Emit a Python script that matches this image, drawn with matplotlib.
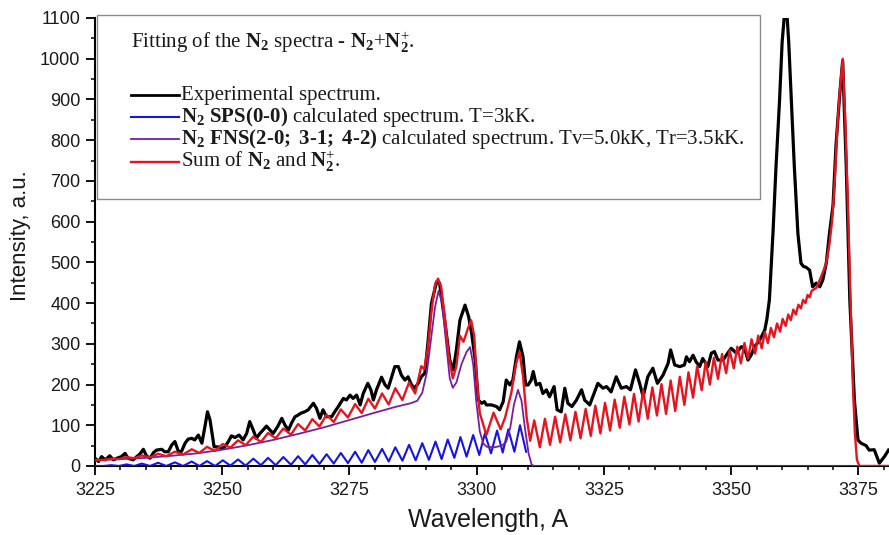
import matplotlib
matplotlib.use("Agg")
import matplotlib.pyplot as plt
from matplotlib.ticker import MultipleLocator
from matplotlib.patches import Rectangle
from matplotlib.lines import Line2D

# ---------------------------------------------------------------------------
# Spectra: (wavelength [A], intensity [a.u.]) pairs
# ---------------------------------------------------------------------------
experimental = [
    (3225.0, 19), (3225.7, 11), (3226.3, 23), (3227.0, 15), (3227.9, 25), (3228.6, 15),
    (3229.3, 19), (3230.2, 23), (3230.9, 31), (3231.5, 19), (3232.5, 15), (3233.2, 23),
    (3233.8, 29), (3234.5, 41), (3235.1, 25), (3235.8, 19), (3236.5, 33), (3237.1, 39),
    (3238.1, 41), (3238.7, 35), (3239.4, 35), (3240.1, 52), (3240.7, 60), (3241.4, 35),
    (3242.0, 36), (3242.7, 56), (3243.3, 66), (3244.0, 68), (3244.6, 64), (3245.3, 76),
    (3246.0, 56), (3246.6, 97), (3247.1, 133), (3247.6, 113), (3248.0, 80), (3248.4, 47),
    (3249.2, 47), (3249.9, 43), (3250.5, 47), (3251.2, 60), (3251.8, 74), (3252.5, 70),
    (3253.3, 76), (3254.1, 64), (3254.8, 80), (3255.4, 109), (3256.1, 88), (3256.7, 68),
    (3257.4, 80), (3258.0, 88), (3258.7, 98), (3259.4, 88), (3260.0, 80), (3260.9, 97),
    (3261.7, 117), (3262.3, 101), (3263.0, 88), (3263.6, 105), (3264.3, 121), (3264.9, 125),
    (3265.5, 130), (3266.2, 133), (3266.9, 138), (3267.9, 154), (3268.5, 142), (3269.2, 117),
    (3269.8, 138), (3270.5, 121), (3271.5, 121), (3272.1, 133), (3272.8, 146), (3273.8, 166),
    (3274.4, 162), (3275.1, 174), (3275.7, 166), (3276.4, 174), (3277.1, 150), (3277.7, 178),
    (3278.6, 203), (3279.2, 187), (3279.7, 162), (3280.3, 187), (3281.3, 218), (3282.0, 199),
    (3282.6, 191), (3283.3, 219), (3283.9, 244), (3284.6, 244), (3285.2, 223), (3285.9, 211),
    (3286.5, 219), (3287.2, 199), (3287.8, 191), (3288.5, 203), (3289.1, 219), (3289.8, 228),
    (3290.4, 301), (3291.1, 399), (3292.1, 452), (3292.7, 449), (3293.7, 358), (3294.7, 260),
    (3295.4, 236), (3296.0, 285), (3296.7, 358), (3297.7, 395), (3298.4, 367), (3299.0, 326),
    (3299.7, 260), (3300.3, 162), (3301.0, 154), (3301.5, 158), (3301.9, 150), (3302.9, 150),
    (3303.9, 146), (3304.5, 138), (3305.2, 158), (3305.8, 211), (3306.5, 199), (3307.1, 211),
    (3307.8, 268), (3308.4, 305), (3309.1, 268), (3309.6, 199), (3310.1, 199), (3310.7, 211),
    (3311.1, 232), (3311.7, 199), (3312.4, 203), (3313.0, 178), (3313.7, 187), (3314.3, 170),
    (3315.2, 195), (3315.8, 138), (3316.6, 133), (3317.3, 191), (3317.9, 154), (3318.7, 146),
    (3319.6, 162), (3320.6, 187), (3321.2, 162), (3322.2, 150), (3322.8, 170), (3323.8, 203),
    (3324.8, 191), (3325.5, 195), (3326.4, 182), (3327.4, 219), (3328.4, 191), (3329.4, 195),
    (3330.2, 187), (3331.2, 236), (3332.0, 203), (3332.7, 170), (3333.6, 219), (3334.6, 240),
    (3335.5, 203), (3336.6, 223), (3337.6, 252), (3338.1, 285), (3338.9, 248), (3339.9, 244),
    (3340.8, 248), (3341.2, 268), (3341.8, 256), (3342.5, 272), (3343.1, 256), (3343.8, 244),
    (3344.4, 264), (3345.4, 244), (3346.1, 277), (3346.7, 281), (3347.4, 260), (3348.4, 260),
    (3349.3, 277), (3350.0, 289), (3351.0, 277), (3352.0, 293), (3352.6, 289), (3353.3, 260),
    (3353.9, 272), (3354.6, 293), (3355.6, 309), (3356.6, 334), (3357.0, 360), (3357.5, 408),
    (3358.2, 571), (3358.8, 735), (3359.5, 899), (3360.0, 1040), (3360.4, 1100), (3361.0, 1100),
    (3361.3, 1040), (3361.8, 899), (3362.4, 735), (3363.1, 571), (3363.7, 498), (3364.2, 490),
    (3364.7, 488), (3365.4, 481), (3366.0, 440), (3366.7, 449), (3367.4, 440), (3368.0, 457),
    (3368.7, 500), (3369.3, 571), (3370.0, 640), (3370.6, 790), (3371.3, 910), (3371.9, 995),
    (3372.6, 735), (3373.3, 408), (3374.2, 162), (3374.9, 64), (3375.5, 56), (3376.5, 50),
    (3377.1, 39), (3378.1, 40), (3379.1, 7), (3380.1, 23), (3380.9, 39),
]

sps_n2 = [
    (3225.0, 0), (3226.7, 0), (3228.2, 2), (3229.7, 0), (3231.2, 4), (3232.7, 0),
    (3234.2, 6), (3235.8, 0), (3237.4, 8), (3239.0, 0), (3240.7, 9), (3242.3, 0),
    (3244.0, 11), (3245.5, 0), (3247.0, 12), (3248.6, 0), (3250.1, 14), (3251.6, 1),
    (3253.1, 16), (3254.6, 1), (3256.1, 18), (3257.6, 2), (3259.0, 20), (3260.5, 2),
    (3262.0, 22), (3263.5, 3), (3264.9, 24), (3266.3, 4), (3267.7, 27), (3269.1, 5),
    (3270.5, 29), (3271.9, 6), (3273.3, 32), (3274.7, 7), (3276.1, 35), (3277.4, 8),
    (3278.7, 39), (3280.0, 10), (3281.4, 42), (3282.7, 11), (3284.0, 46), (3285.4, 13),
    (3286.7, 52), (3288.0, 14), (3289.3, 56), (3290.6, 15), (3291.9, 60), (3293.1, 17),
    (3294.3, 65), (3295.6, 20), (3296.8, 71), (3298.0, 23), (3299.3, 76), (3300.5, 27),
    (3301.6, 80), (3302.8, 31), (3304.0, 87), (3305.1, 33), (3306.2, 90), (3307.4, 35),
    (3308.5, 100), (3309.7, 35),
]

fns_n2plus = [
    (3225.0, 14), (3230.0, 17), (3235.0, 20), (3240.0, 25), (3245.0, 31), (3250.0, 40),
    (3255.0, 51), (3260.0, 64), (3265.0, 79), (3270.0, 95), (3275.0, 113), (3280.0, 131),
    (3284.0, 145), (3287.0, 154), (3288.3, 160), (3289.3, 180), (3290.2, 230), (3291.0, 310),
    (3291.8, 390), (3292.5, 430), (3293.2, 400), (3294.0, 300), (3294.7, 215), (3295.3, 192),
    (3296.0, 205), (3297.0, 250), (3298.0, 280), (3298.7, 292), (3299.3, 250), (3299.9, 160),
    (3300.6, 85), (3301.3, 55), (3302.0, 47), (3303.5, 46), (3305.0, 50), (3305.8, 60),
    (3306.6, 95), (3307.3, 150), (3308.1, 187), (3308.8, 160), (3309.5, 90), (3310.2, 30),
    (3310.8, 3), (3311.3, 0), (3381.0, 0),
]

sum_spectrum = [
    (3225.0, 14), (3226.7, 15), (3228.2, 18), (3229.7, 17), (3231.2, 22), (3232.7, 19),
    (3234.2, 26), (3235.8, 21), (3237.4, 30), (3239.0, 24), (3240.7, 35), (3242.3, 28),
    (3244.0, 41), (3245.5, 32), (3247.0, 47), (3248.6, 37), (3250.1, 54), (3251.6, 45),
    (3253.1, 63), (3254.6, 51), (3256.1, 72), (3257.6, 59), (3259.0, 81), (3260.5, 68),
    (3262.0, 92), (3263.5, 77), (3264.9, 103), (3266.3, 87), (3267.7, 115), (3269.1, 97),
    (3270.5, 126), (3271.9, 108), (3273.3, 139), (3274.7, 119), (3276.1, 152), (3277.4, 130),
    (3278.7, 165), (3280.0, 141), (3281.4, 178), (3282.7, 151), (3284.0, 191), (3285.4, 162),
    (3286.7, 205), (3287.9, 178), (3289.1, 245), (3289.7, 238), (3290.4, 290), (3291.1, 380),
    (3291.8, 445), (3292.4, 460), (3293.0, 440), (3293.7, 370), (3294.5, 270), (3295.3, 215),
    (3296.0, 245), (3296.7, 320), (3297.4, 305), (3298.2, 335), (3298.9, 358), (3299.5, 320),
    (3300.1, 200), (3300.6, 130), (3301.9, 76), (3303.3, 131), (3304.7, 90), (3305.6, 120),
    (3306.8, 180), (3307.7, 250), (3308.4, 280), (3309.1, 220), (3309.8, 120), (3310.5, 62),
    (3311.3, 112), (3312.4, 46), (3313.4, 116), (3314.4, 52), (3315.4, 121), (3316.4, 58),
    (3317.4, 127), (3318.4, 63), (3319.4, 133), (3320.4, 68), (3321.4, 140), (3322.4, 74),
    (3323.3, 148), (3324.3, 80), (3325.2, 155), (3326.2, 87), (3327.1, 163), (3328.1, 94),
    (3329.0, 170), (3330.0, 102), (3330.9, 177), (3331.8, 109), (3332.7, 185), (3333.6, 116),
    (3334.5, 193), (3335.4, 124), (3336.3, 201), (3337.2, 128), (3338.1, 210), (3339.0, 135),
    (3339.9, 219), (3340.8, 150), (3341.6, 230), (3342.5, 168), (3343.3, 244), (3344.2, 186),
    (3345.0, 256), (3345.8, 200), (3346.6, 266), (3347.4, 214), (3348.2, 275), (3349.0, 228),
    (3349.7, 284), (3350.5, 240), (3351.2, 293), (3351.9, 252), (3352.6, 302), (3353.3, 264),
    (3354.0, 311), (3354.7, 276), (3355.3, 320), (3356.0, 289), (3356.6, 329), (3357.2, 302),
    (3357.8, 339), (3358.4, 316), (3359.0, 350), (3359.6, 330), (3360.1, 361), (3360.7, 344),
    (3361.2, 372), (3361.7, 358), (3362.2, 384), (3362.7, 372), (3363.2, 396), (3363.7, 387),
    (3364.1, 408), (3364.6, 400), (3365.0, 420), (3365.4, 414), (3365.8, 430), (3366.7, 437),
    (3367.5, 460), (3368.2, 482), (3368.7, 500), (3369.3, 545), (3369.8, 600), (3370.3, 690),
    (3370.8, 820), (3371.3, 915), (3371.9, 1000), (3372.4, 850), (3372.9, 650), (3373.4, 420),
    (3373.9, 200), (3374.3, 80), (3374.7, 15), (3375.2, 0), (3381.0, 0),
]

x_ticks = [3225, 3250, 3275, 3300, 3325, 3350, 3375]
y_ticks = list(range(0, 1101, 100))

legend_title = (r"Fitting of the $\mathbf{N}_{\mathbf{2}}$ spectra - "
                r"$\mathbf{N}_{\mathbf{2}}$+$\mathbf{N}_{\mathbf{2}}^{+}$.")
legend_labels = [
    "Experimental spectrum.",
    r"$\mathbf{N}_{\mathbf{2}}$ $\mathbf{SPS(0}$-$\mathbf{0)}$ calculated spectrum. T=3kK.",
    r"$\mathbf{N}_{\mathbf{2}}$ $\mathbf{FNS(2}$-$\mathbf{0;}$ $\mathbf{3}$-$\mathbf{1;}$ "
    r"$\mathbf{4}$-$\mathbf{2)}$ calculated spectrum. Tv=5.0kK, Tr=3.5kK.",
    r"Sum of $\mathbf{N}_{\mathbf{2}}$ and $\mathbf{N}_{\mathbf{2}}^{+}$.",
]

# ---------------------------------------------------------------------------
plt.rcParams['font.family'] = ['Liberation Sans', 'DejaVu Sans']
plt.rcParams['mathtext.fontset'] = 'custom'
plt.rcParams['mathtext.rm'] = 'Liberation Serif'
plt.rcParams['mathtext.bf'] = 'Liberation Serif:bold'
plt.rcParams['mathtext.it'] = 'Liberation Serif:italic'

colors = {'exp': '#000000', 'sps': '#1414e6', 'fns': '#7a1ea0', 'sum': '#e6141e'}
widths = {'exp': 2.3, 'sps': 1.5, 'fns': 1.3, 'sum': 1.7}

W, H = 889, 535
fig = plt.figure(figsize=(W / 100, H / 100), dpi=100)
ax = fig.add_axes([95 / W, 69 / H, 794 / W, 448 / H])


def unzip(pairs):
    return [p[0] for p in pairs], [p[1] for p in pairs]


series = [('exp', experimental), ('sps', sps_n2), ('fns', fns_n2plus), ('sum', sum_spectrum)]
for z, (key, pts) in enumerate(series):
    wl, inten = unzip(pts)
    ax.plot(wl, inten, color=colors[key], lw=widths[key], zorder=3 + z,
            solid_joinstyle='round')

ax.set_xlim(3225, 3381)
ax.set_ylim(0, 1100)
ax.set_xticks(x_ticks)
ax.set_yticks(y_ticks)
ax.xaxis.set_minor_locator(MultipleLocator(5))
ax.yaxis.set_minor_locator(MultipleLocator(50))

for side in ('top', 'right'):
    ax.spines[side].set_visible(False)
for side in ('left', 'bottom'):
    ax.spines[side].set_linewidth(1.5)

ax.tick_params(which='major', direction='out', length=6.5, width=1.3,
               labelsize=13, colors='black', labelcolor='#1a1a1a', pad=4)
ax.tick_params(which='minor', direction='out', length=3.2, width=1.1)
ax.tick_params(axis='x', which='major', pad=5)

ax.set_xlabel("Wavelength, A", fontsize=18, color='#1a1a1a')
ax.set_ylabel("Intensity, a.u.", fontsize=16, color='#1a1a1a')
ax.xaxis.label.set_va('center')
ax.yaxis.label.set_va('center')
ax.xaxis.set_label_coords((488 - 95) / 794, (466 - 520) / 448)
ax.yaxis.set_label_coords((21 - 95) / 794, (466 - 236) / 448)


# legend box drawn in pixel positions relative to the axes
def ax_x(px):
    return (px - 95) / 794


def ax_y(py):
    return (466 - py) / 448


box = Rectangle((ax_x(97), ax_y(199)), ax_x(760) - ax_x(97), ax_y(15) - ax_y(199),
                transform=ax.transAxes, facecolor='white', edgecolor='#8a8a8a',
                lw=1.0, zorder=10, clip_on=False)
ax.add_patch(box)

text_kw = dict(transform=ax.transAxes, fontsize=15, family='Liberation Serif',
               color='#1a1a1a', va='baseline', ha='left', zorder=11, clip_on=False)
ax.text(ax_x(131), ax_y(48), legend_title, **text_kw)

rows_py = [95, 117, 139, 162]
for key, label, py in zip(['exp', 'sps', 'fns', 'sum'], legend_labels, rows_py):
    ax.add_line(Line2D([ax_x(131), ax_x(179)], [ax_y(py), ax_y(py)],
                       transform=ax.transAxes, color=colors[key],
                       lw=widths[key] if key != 'exp' else 2.0,
                       zorder=11, clip_on=False))
    ax.text(ax_x(181), ax_y(py + 5), label, **text_kw)

fig.savefig("out.png", dpi=100)
